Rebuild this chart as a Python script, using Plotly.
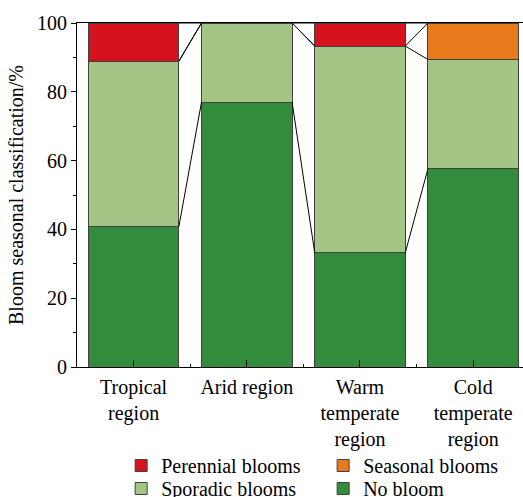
import plotly.graph_objects as go

categories = ["Tropical<br>region", "Arid region", "Warm<br>temperate<br>region", "Cold<br>temperate<br>region"]
no_bloom = [40.8, 77.0, 33.2, 57.6]
sporadic = [48.1, 23.0, 60.1, 31.8]
seasonal = [0.0, 0.0, 0.0, 10.6]
perennial = [11.1, 0.0, 6.7, 0.0]

series = [
    ("No bloom", no_bloom, "#318D3C", "legend2"),
    ("Sporadic blooms", sporadic, "#A3C586", "legend2"),
    ("Seasonal blooms", seasonal, "#E77A1A", "legend"),
    ("Perennial blooms", perennial, "#D6121F", "legend"),
]

xs = list(range(len(categories)))
bar_w = 0.8
FONT = "Liberation Serif"

fig = go.Figure()
for name, vals, col, leg in series:
    fig.add_trace(go.Bar(
        x=xs, y=vals, name=name, width=bar_w, legend=leg,
        marker=dict(color=col, line=dict(color="#404040", width=1)),
    ))

# series (connector) lines between adjacent bars at cumulative levels
cum = [0.0] * len(categories)
for name, vals, col, leg in series:
    cum = [c + v for c, v in zip(cum, vals)]
    for i in range(len(categories) - 1):
        fig.add_trace(go.Scatter(
            x=[xs[i] + bar_w / 2, xs[i + 1] - bar_w / 2],
            y=[cum[i], cum[i + 1]],
            mode="lines", line=dict(color="black", width=1),
            showlegend=False, hoverinfo="skip",
        ))

leg_common = dict(
    orientation="h", traceorder="reversed", x=0.099, xanchor="left", yanchor="top",
    entrywidth=157, entrywidthmode="pixels", font=dict(family=FONT, size=20),
    tracegroupgap=0, itemwidth=30, bgcolor="rgba(0,0,0,0)",
)
fig.update_layout(
    width=523, height=497,
    margin=dict(l=77, r=0, t=23, b=130, autoexpand=False),
    barmode="stack",
    plot_bgcolor="white", paper_bgcolor="white",
    font=dict(family=FONT, size=20, color="black"),
    showlegend=True,
    legend=dict(leg_common, y=-0.2297),
    legend2=dict(leg_common, y=-0.2965),
)
fig.update_xaxes(
    range=[-0.5, 3.44],
    tickmode="array", tickvals=xs, ticktext=categories,
    ticks="inside", ticklen=7, tickcolor="black", ticklabelstandoff=2,
    showline=True, linecolor="black", linewidth=1, mirror=True,
    showgrid=False, zeroline=False,
    minor=dict(tickmode="array", tickvals=[0.5, 1.5, 2.5], ticks="inside", ticklen=3, tickcolor="black"),
)
fig.update_yaxes(
    range=[0, 100],
    tickmode="array", tickvals=[0, 20, 40, 60, 80, 100],
    ticks="outside", ticklen=5, tickcolor="black",
    showline=True, linecolor="black", linewidth=1,
    showgrid=False, zeroline=False,
    minor=dict(tickmode="array", tickvals=[10, 30, 50, 70, 90], ticks="outside", ticklen=3, tickcolor="black"),
    title=dict(text="Bloom seasonal classification/%", font=dict(family=FONT, size=20), standoff=8),
)
fig.write_html("out.html")
